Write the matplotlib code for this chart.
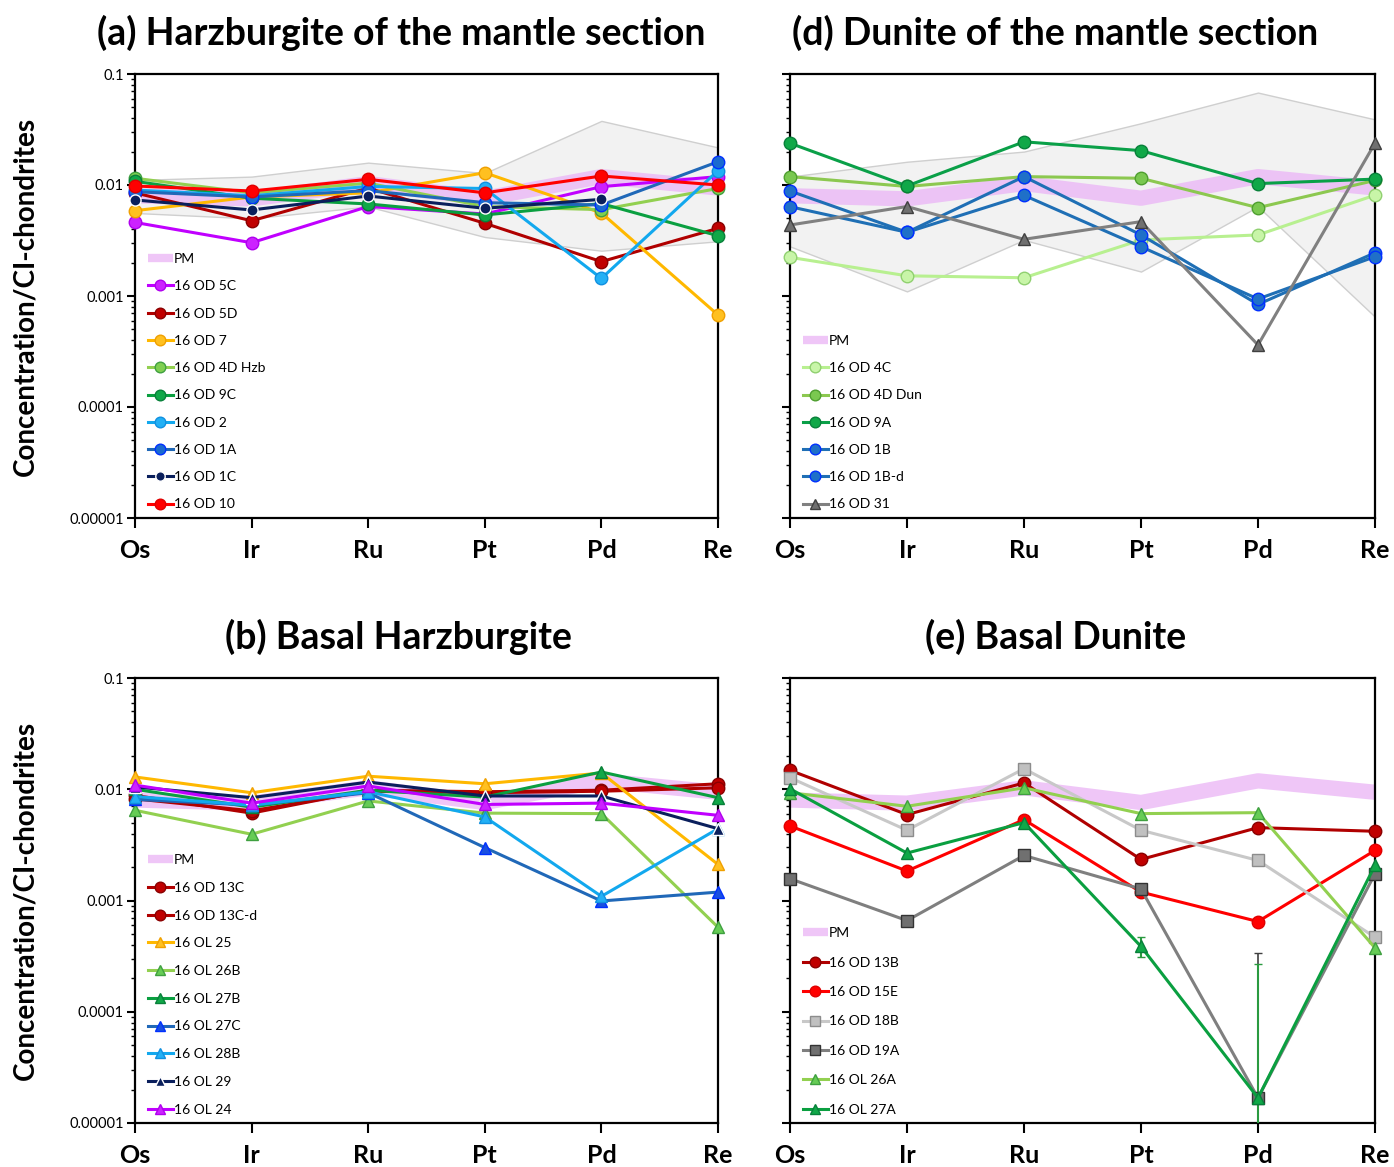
import numpy as np
import matplotlib
matplotlib.use("Agg")
import matplotlib.pyplot as plt
from matplotlib.ticker import FixedLocator, LogLocator, NullFormatter, FixedFormatter

plt.rcParams['font.family'] = ['Lato', 'DejaVu Sans']

nan = np.nan
elements = ['Os', 'Ir', 'Ru', 'Pt', 'Pd', 'Re']
ytick_vals = [0.00001, 0.0001, 0.001, 0.01, 0.1]
ytick_labels = ['0.00001', '0.0001', '0.001', '0.01', '0.1']

# Primitive mantle (PM) normalised values
pm = [0.0080, 0.0075, 0.0103, 0.0076, 0.0119, 0.0094]

# (a) Harzburgite of the mantle section
a_field_hi = [0.0111, 0.0119, 0.0159, 0.0128, 0.0378, 0.0218]
a_field_lo = [0.0056, 0.0050, 0.0064, 0.0034, 0.00256, 0.00311]
a_5C = [0.00460, 0.00302, 0.00640, 0.00548, 0.00966, 0.0119]
a_5D = [0.00850, 0.00476, 0.0094, 0.00452, 0.00204, 0.00407]
a_7 = [0.00587, 0.0078, 0.0085, 0.0129, 0.0056, 0.000675]
a_4DHzb = [0.0115, 0.0085, 0.0104, 0.0064, 0.0060, 0.0093]
a_9C = [0.0108, 0.0076, 0.00675, 0.00537, 0.0068, 0.00349]
a_2 = [0.0090, 0.0080, 0.0097, 0.0093, 0.00144, 0.01345]
a_1A = [0.0087, 0.0078, 0.0089, 0.00693, 0.0066, 0.0162]
a_1C = [0.00733, 0.00596, 0.00796, 0.00617, 0.00743, nan]
a_10 = [0.0098, 0.00883, 0.01125, 0.0085, 0.01205, 0.0100]

# (d) Dunite of the mantle section
d_field_hi = [0.0119, 0.0162, 0.0200, 0.0360, 0.0680, 0.0390]
d_field_lo = [0.0028, 0.0011, 0.0032, 0.00166, 0.0064, 0.00065]
d_4C = [0.00223, 0.00152, 0.00146, 0.0032, 0.00355, 0.0081]
d_4DDun = [0.0119, 0.0097, 0.0119, 0.0115, 0.00625, 0.0110]
d_9A = [0.0238, 0.0098, 0.0245, 0.0204, 0.0103, 0.0113]
d_1B = [0.00883, 0.00375, 0.0119, 0.00355, 0.00084, 0.00245]
d_1Bd = [0.00638, 0.00375, 0.00807, 0.00278, 0.00094, 0.00226]
d_31 = [0.00436, 0.0064, 0.00324, 0.00468, 0.000362, 0.0238]

# (b) Basal harzburgite
b_13C = [0.0088, 0.0061, 0.0098, 0.0095, 0.0098, 0.0112]
b_13Cd = [0.0082, 0.0064, 0.0096, 0.0093, 0.0096, 0.0103]
b_25 = [0.0129, 0.0093, 0.0131, 0.0112, 0.0140, 0.00211]
b_26B = [0.00647, 0.00394, 0.00785, 0.0061, 0.00604, 0.000575]
b_27B = [0.0100, 0.0069, 0.0098, 0.0085, 0.0143, 0.0084]
b_27C = [0.0081, 0.0072, 0.0093, 0.00299, 0.00099, 0.00119]
b_28B = [0.0086, 0.0072, 0.0095, 0.00564, 0.00109, 0.00442]
b_29 = [0.0105, 0.0084, 0.0116, 0.0087, 0.0087, 0.00442]
b_24 = [0.0109, 0.0075, 0.0107, 0.0073, 0.0075, 0.00583]

# (e) Basal dunite
e_13B = [0.0148, 0.00592, 0.0114, 0.00234, 0.00452, 0.00419]
e_15E = [0.00468, 0.00184, 0.00533, 0.00119, 0.000647, 0.00282]
e_18B = [0.0127, 0.00428, 0.0153, 0.00428, 0.00229, 0.000467]
e_19A = [0.00157, 0.00066, 0.00254, 0.00127, 0.0000168, 0.00174]
e_26A = [0.0093, 0.00703, 0.0103, 0.00604, 0.00616, 0.000375]
e_27A = [0.0101, 0.00267, 0.00501, 0.000386, 0.0000168, 0.00207]
# error bars (element index, upper, lower)
e_27A_err_idx = [3, 4]
e_27A_err_hi = [0.000466, 0.00027]
e_27A_err_lo = [0.000313, 0.000001]
e_19A_err_idx = [4]
e_19A_err_hi = [0.00034]
e_19A_err_lo = [0.000001]

W, H = 1394, 1167
fig = plt.figure(figsize=(W / 100, H / 100), dpi=100)


def make_ax(left, right, top, bottom, ylabels=True):
    ax = fig.add_axes([left / W, 1 - bottom / H, (right - left) / W, (bottom - top) / H])
    ax.set_yscale('log')
    ax.set_ylim(1e-5, 0.1)
    ax.set_xlim(0, 5)
    ax.xaxis.set_major_locator(FixedLocator(range(6)))
    ax.set_xticklabels(elements, fontsize=18, fontweight='bold')
    ax.yaxis.set_major_locator(FixedLocator(ytick_vals))
    ax.yaxis.set_minor_locator(LogLocator(base=10, subs=np.arange(2, 10)))
    ax.yaxis.set_minor_formatter(NullFormatter())
    if ylabels:
        ax.yaxis.set_major_formatter(FixedFormatter(ytick_labels))
    else:
        ax.yaxis.set_major_formatter(NullFormatter())
    ax.tick_params(axis='y', which='major', direction='out', length=6, width=1.5, labelsize=10.5, pad=2)
    ax.tick_params(axis='y', which='minor', direction='out', length=3, width=1.0)
    ax.tick_params(axis='x', which='major', direction='out', length=7, width=1.5, pad=8)
    for s in ax.spines.values():
        s.set_linewidth(1.6)
        s.set_color('black')
    return ax


x = np.arange(6)


def field(ax, lo, hi):
    ax.fill_between(x, lo, hi, facecolor='#f2f2f2', edgecolor='#cfcfcf', lw=1.0, zorder=1)


def pm_band(ax):
    ax.plot(x, pm, color='#ebb8f6', lw=11, alpha=0.8, solid_capstyle='butt', zorder=2, label='PM')


def series(ax, y, label, lc, mfc, mec, marker='o', ms=9, lw=2.2):
    ax.plot(x, y, color=lc, lw=lw, marker=marker, ms=ms, mfc=mfc, mec=mec, mew=1.0,
            label=label, zorder=3, clip_on=False)


def legend(ax, spacing=1.1):
    leg = ax.legend(loc='lower left', bbox_to_anchor=(0.005, -0.005), frameon=False, fontsize=10,
                    handlelength=1.8, handletextpad=0.1, labelspacing=spacing, borderaxespad=0.3,
                    markerscale=0.85)
    leg.legend_handles[0].set_linewidth(6)
    return leg


# ---------- (a) ----------
ax = make_ax(135, 718, 74, 518)
field(ax, a_field_lo, a_field_hi)
pm_band(ax)
series(ax, a_5C, '16 OD 5C', '#c000ff', '#cc22ff', '#b000ee')
series(ax, a_5D, '16 OD 5D', '#b00000', '#c00000', '#8a0000')
series(ax, a_7, '16 OD 7', '#ffb800', '#ffc020', '#f0a000')
series(ax, a_4DHzb, '16 OD 4D Hzb', '#92d050', '#7fcf50', '#3fa040')
series(ax, a_9C, '16 OD 9C', '#0a9f40', '#10a848', '#08803a')
series(ax, a_2, '16 OD 2', '#12a8ee', '#22b0f5', '#1090e0')
series(ax, a_1A, '16 OD 1A', '#2068b8', '#1a6ad0', '#0030ff')
series(ax, a_1C, '16 OD 1C', '#0a1f5c', '#0a1f5c', 'white', ms=8)
series(ax, a_10, '16 OD 10', '#ff0000', '#ff0000', '#e00000')
legend(ax, 1.1)
ax.set_ylabel('Concentration/CI-chondrites', fontsize=20, fontweight='bold', labelpad=22)

# ---------- (d) ----------
ax = make_ax(790, 1375, 74, 518, ylabels=False)
field(ax, d_field_lo, d_field_hi)
pm_band(ax)
series(ax, d_4C, '16 OD 4C', '#b8f090', '#c8f5a8', '#90d070')
series(ax, d_4DDun, '16 OD 4D Dun', '#8cc850', '#7ac850', '#4f9f30')
series(ax, d_9A, '16 OD 9A', '#0aa048', '#10a848', '#08803a')
series(ax, d_1B, '16 OD 1B', '#1f6fb5', '#1f70c8', '#0030ff')
series(ax, d_1Bd, '16 OD 1B-d', '#1f6fb5', '#1f70c8', '#0030ff')
series(ax, d_31, '16 OD 31', '#808080', '#707070', '#404040', marker='^')
legend(ax, 1.1)

# ---------- (b) ----------
ax = make_ax(135, 718, 678, 1123)
pm_band(ax)
series(ax, b_13C, '16 OD 13C', '#b00000', '#c00000', '#8a0000')
series(ax, b_13Cd, '16 OD 13C-d', '#b00000', '#c00000', '#8a0000')
series(ax, b_25, '16 OL 25', '#ffb800', '#ffc020', '#f0a000', marker='^')
series(ax, b_26B, '16 OL 26B', '#92d050', '#66cc55', '#3fa040', marker='^')
series(ax, b_27B, '16 OL 27B', '#0a9f40', '#10a848', '#08803a', marker='^')
series(ax, b_27C, '16 OL 27C', '#2068b8', '#1a50e0', '#0030ff', marker='^')
series(ax, b_28B, '16 OL 28B', '#12a8ee', '#22b0f5', '#1090e0', marker='^')
series(ax, b_29, '16 OL 29', '#0a1f5c', '#0a1f5c', 'white', marker='^', ms=8)
series(ax, b_24, '16 OL 24', '#c000ff', '#cc22ff', '#b000ee', marker='^')
legend(ax, 1.13)
ax.set_ylabel('Concentration/CI-chondrites', fontsize=20, fontweight='bold', labelpad=22)

# ---------- (e) ----------
ax = make_ax(790, 1375, 678, 1123, ylabels=False)
pm_band(ax)
series(ax, e_13B, '16 OD 13B', '#b00000', '#c00000', '#8a0000')
series(ax, e_15E, '16 OD 15E', '#ff0000', '#ff0000', '#e00000')
series(ax, e_18B, '16 OD 18B', '#c8c8c8', '#c0c0c0', '#8c8c8c', marker='s')
series(ax, e_19A, '16 OD 19A', '#7f7f7f', '#707070', '#333333', marker='s')
series(ax, e_26A, '16 OL 26A', '#92d050', '#66cc55', '#3fa040', marker='^')
series(ax, e_27A, '16 OL 27A', '#0a9f40', '#10a848', '#08803a', marker='^')
for idx, hi, lo in zip(e_19A_err_idx, e_19A_err_hi, e_19A_err_lo):
    v = e_19A[idx]
    ax.errorbar([idx], [v], yerr=[[v - lo], [hi - v]], fmt='none', ecolor='#404040',
                elinewidth=1.2, capsize=3, zorder=2.5)
for idx, hi, lo in zip(e_27A_err_idx, e_27A_err_hi, e_27A_err_lo):
    v = e_27A[idx]
    ax.errorbar([idx], [v], yerr=[[v - lo], [hi - v]], fmt='none', ecolor='#2a9a40',
                elinewidth=1.5, capsize=3, zorder=2.6)
legend(ax, 1.25)

# Titles
title_kw = dict(ha='center', va='center', fontsize=27, fontweight='bold')
fig.text(401 / W, 1 - 33 / H, '(a) Harzburgite of the mantle section', **title_kw)
fig.text(1055 / W, 1 - 33 / H, '(d) Dunite of the mantle section', **title_kw)
fig.text(398 / W, 1 - 637 / H, '(b) Basal Harzburgite', **title_kw)
fig.text(1056 / W, 1 - 637 / H, '(e) Basal Dunite', **title_kw)

fig.savefig('out.png', dpi=100)
